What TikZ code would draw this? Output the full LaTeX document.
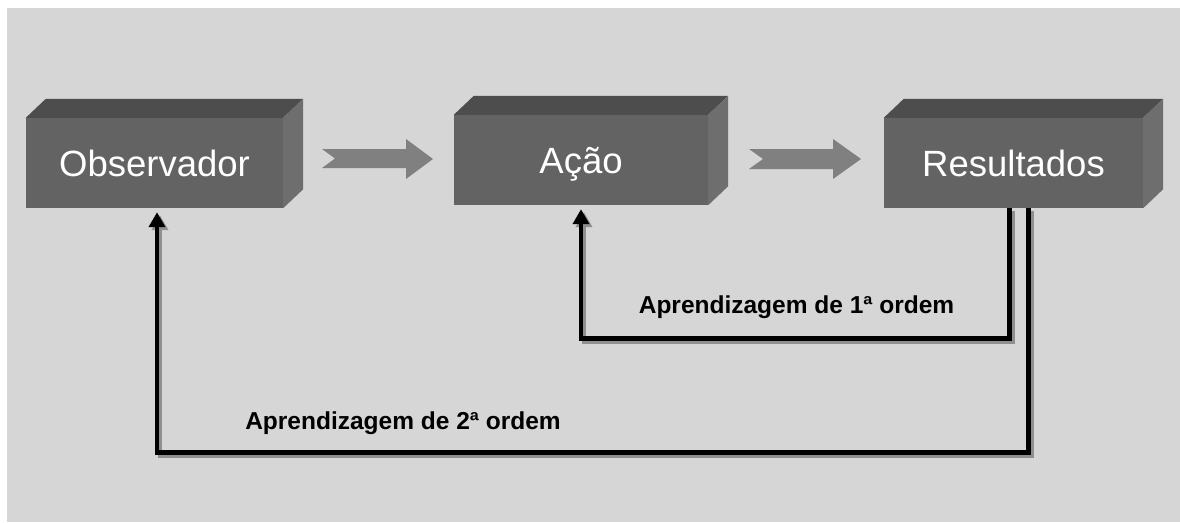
\documentclass[tikz,border=0pt]{standalone}
\usepackage{fontspec}
\setmainfont{Liberation Sans}
\usetikzlibrary{arrows.meta,calc}
\definecolor{panel}{HTML}{D6D6D6}
\definecolor{frontc}{HTML}{636363}
\definecolor{topc}{HTML}{4D4D4D}
\definecolor{sidec}{HTML}{6E6E6E}
\definecolor{arrowc}{HTML}{808080}
\definecolor{shadowc}{HTML}{8F8F8F}
\tikzset{
  box/.style={rectangle, fill=frontc, inner sep=0pt, minimum height=90pt,
    text height=26pt, text depth=0pt,
    text=white, font=\fontsize{36.5}{40}\selectfont},
  lbl/.style={font=\bfseries\fontsize{24.5}{28}\selectfont, text=black, inner sep=0pt},
  fbline/.style={line width=4.8pt, black, -{Triangle[length=15pt,width=16pt]}, shorten >=4pt},
  fbshadow/.style={fbline, shadowc, transform canvas={shift={(3pt,-3pt)}}},
  blockarrow/.style={fill=arrowc}
}
\newcommand{\boxfaces}[1]{%
  \fill[topc] (#1.north west) -- ++(20,-19) -- ($(#1.north east)+(20,-19)$) -- (#1.north east) -- cycle;
  \fill[sidec] (#1.north east) -- ++(20,-19) -- ($(#1.south east)+(20,-19)$) -- (#1.south east) -- cycle;}
\begin{document}
\begin{tikzpicture}[x=1pt,y=-1pt]
\useasboundingbox (0,0) rectangle (1180,522);
\fill[white] (0,0) rectangle (1180,522);
\fill[panel] (7,8) rectangle (1180,522);

% boxes
\node[box, minimum width=257pt] (obs) at (154.5,163) {Observador};
\node[box, minimum width=254pt] (act) at (581,160) {Ação};
\node[box, minimum width=259pt] (res) at (1013.5,163) {Resultados};
\boxfaces{obs}
\boxfaces{act}
\boxfaces{res}

% block arrows
\fill[blockarrow] (322,149) -- (406,149) -- (406,139) -- (433,159) -- (406,179) -- (406,168) -- (322,168) -- (335,158.5) -- cycle;
\fill[blockarrow] (749,149) -- (833,149) -- (833,139) -- (861,159) -- (833,179) -- (833,169) -- (749,169) -- (763,159) -- cycle;

% feedback loops
\coordinate (r1) at ([xshift=125.5pt]res.south west);
\coordinate (r2) at ([xshift=144.5pt]res.south west);
\coordinate (o1) at ([xshift=2.5pt]obs.south);

\draw[fbshadow] (r1) -- ++(0,130) -| (act.south);
\draw[fbshadow] (r2) -- ++(0,244) -| (o1);
\draw[fbline] (r1) -- ++(0,130) -| (act.south);
\draw[fbline] (r2) -- ++(0,244) -| (o1);

% labels
\node[lbl, anchor=base] (l1) at (796.5,313) {Aprendizagem de 1ª ordem};
\node[lbl, anchor=base] (l2) at (403,429) {Aprendizagem de 2ª ordem};
\end{tikzpicture}
\end{document}
